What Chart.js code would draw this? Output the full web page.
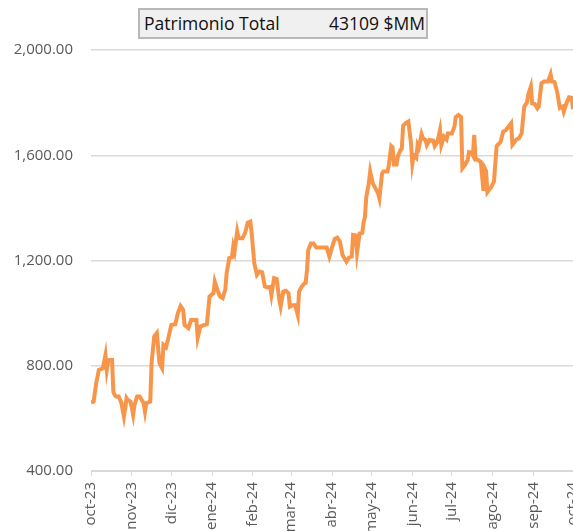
<!DOCTYPE html>
<html>
<head>
<meta charset="utf-8">
<script src="https://cdn.jsdelivr.net/npm/chart.js@4.4.1/dist/chart.umd.min.js"></script>
<style>
  html, body { margin: 0; padding: 0; overflow: hidden; background: #fff; }
  #wrap { position: relative; width: 573px; height: 531px; overflow: hidden; }
  #c { position: absolute; left: 0; top: 0; }
  #caja {
    position: absolute; left: 138px; top: 8px; width: 286px; height: 27px;
    background: #f0f0f0; border: 2px solid #b8b8b8;
    font-family: "Open Sans", sans-serif; font-size: 17.5px; color: #111;
    line-height: 27px;
  }
  #caja .nom { position: absolute; left: 4px; }
  #caja .val { position: absolute; right: 1px; }
</style>
</head>
<body>
<div id="wrap">
  <canvas id="c" width="590" height="560"></canvas>
  <div id="caja"><span class="nom">Patrimonio Total</span><span class="val">43109 $MM</span></div>
</div>
<script>
// dias desde 1-oct-2023
const dias = [0, 2, 3, 4, 6, 8, 9, 11, 12, 13, 14, 16, 17, 18, 19, 21, 23, 25, 26, 27, 28, 30, 31, 32, 33, 35, 37, 40, 41, 42, 45,
  46, 48, 50, 52, 54, 55, 57, 59, 61, 64, 66, 68, 70, 71, 74, 76, 80, 81, 83, 86, 88, 90,
  93, 94, 96, 98, 100, 102, 103, 105, 107, 108, 109, 111, 112, 115, 117, 119, 121, 122,
  124, 126, 128, 130, 132, 134, 136, 137, 139, 141, 143, 144, 146, 148, 150, 151,
  153, 155, 157, 158, 160, 162, 163, 164, 165, 167, 169, 171, 174, 179, 181, 183,
  185, 187, 189, 191, 194, 196, 198, 199, 201, 202, 204, 206, 207, 208, 209, 211, 212,
  214, 216, 218, 219, 221, 222, 225, 226, 228, 229, 230, 232, 233, 235, 236, 237, 239, 241, 243,
  244, 245, 247, 248, 249, 251, 252, 254, 255, 257, 260, 261, 263, 265, 266, 268, 270, 271, 274,
  276, 277, 279, 281, 282, 284, 286, 287, 289, 290, 291, 292, 294, 296, 298, 299, 300, 301, 303, 304,
  306, 308, 309, 311, 313, 315, 317, 319, 320, 323, 325, 327, 329, 331, 332, 334, 335,
  337, 339, 340, 342, 344, 347, 349, 350, 352, 354, 356, 358, 359, 361, 363, 365, 366];

const patrimonio = [660, 664, 700, 735, 784, 788, 790, 841, 784, 815, 822, 822, 700, 689, 683, 683, 660, 607, 640, 677, 670, 664, 640, 613, 650, 683, 683, 658, 626, 658, 664,
  810, 911, 924, 810, 791, 879, 870, 911, 955, 958, 1000, 1027, 1012, 955, 943, 974, 974, 906, 949, 955, 958, 1063,
  1076, 1120, 1088, 1063, 1057, 1090, 1152, 1209, 1212, 1253, 1234, 1310, 1285, 1285, 1304, 1344, 1348, 1304,
  1190, 1145, 1158, 1155, 1101, 1098, 1100, 1069, 1133, 1130, 1050, 1025, 1082, 1085, 1075, 1025,
  1030, 1030, 993, 1082, 1101, 1113, 1115, 1164, 1240, 1265, 1265, 1249, 1249, 1249, 1215, 1250,
  1281, 1287, 1272, 1221, 1196, 1212, 1215, 1297, 1295, 1230, 1303, 1305, 1345, 1365, 1440, 1495, 1538,
  1493, 1474, 1455, 1436, 1530, 1538, 1538, 1557, 1635, 1630, 1565, 1565, 1595, 1620, 1625, 1712, 1722, 1728, 1645,
  1568, 1600, 1590, 1640, 1630, 1680, 1665, 1658, 1639, 1658, 1655, 1635, 1650, 1696, 1639, 1671, 1660, 1683, 1683,
  1709, 1745, 1753, 1745, 1550, 1563, 1582, 1612, 1610, 1600, 1677, 1585, 1582, 1575, 1465, 1550, 1540, 1460, 1474, 1480,
  1500, 1635, 1640, 1650, 1690, 1695, 1709, 1722, 1640, 1660, 1665, 1683, 1785, 1800, 1830, 1861, 1797,
  1795, 1778, 1785, 1873, 1880, 1880, 1908, 1880, 1878, 1840, 1780, 1785, 1766, 1797, 1820, 1818, 1775];

const diasMes = [0, 31, 61, 92, 123, 152, 183, 213, 244, 274, 305, 336, 366];
const etiquetasMes = ['oct-23', 'nov-23', 'dic-23', 'ene-24', 'feb-24', 'mar-24', 'abr-24', 'may-24', 'jun-24', 'jul-24', 'ago-24', 'sep-24', 'oct-24'];

const GRIS = '#d9d9d9';
const TEXTO = '#595959';
const FUENTE = { family: 'Open Sans', size: 15 };

new Chart(document.getElementById('c'), {
  type: 'line',
  data: {
    datasets: [{
      label: 'Patrimonio',
      data: dias.map((d, i) => ({ x: d, y: patrimonio[i] })),
      borderColor: '#f7964a',
      borderWidth: 4,
      pointRadius: 0,
      tension: 0,
      fill: false
    }]
  },
  options: {
    responsive: false,
    animation: false,
    devicePixelRatio: 1,
    layout: { padding: { top: 50, right: 17, left: 0, bottom: 0 } },
    plugins: { legend: { display: false }, tooltip: { enabled: false } },
    scales: {
      x: {
        type: 'linear',
        min: 0,
        max: 366,
        afterBuildTicks: (scale) => { scale.ticks = diasMes.map(v => ({ value: v })); },
        afterFit: (scale) => {
          scale.height = 89;
          // sin margen extra por las etiquetas giradas
          scale.paddingLeft = 0;
          scale.paddingRight = 0;
        },
        grid: { drawOnChartArea: false, drawTicks: true, tickLength: 5, color: GRIS },
        border: { display: true, color: GRIS },
        ticks: {
          autoSkip: false,
          maxRotation: 90,
          minRotation: 90,
          padding: 6,
          color: TEXTO,
          font: FUENTE,
          callback: (v) => etiquetasMes[diasMes.indexOf(v)]
        }
      },
      y: {
        min: 400,
        max: 2000,
        afterFit: (scale) => { scale.width = 91; },
        grid: { color: GRIS, drawTicks: false, lineWidth: 1.5 },
        border: { display: false },
        ticks: {
          stepSize: 400,
          padding: 18,
          color: TEXTO,
          font: FUENTE,
          callback: (v) => v.toLocaleString('en-US', { minimumFractionDigits: 2, maximumFractionDigits: 2 })
        }
      }
    }
  }
});
</script>
</body>
</html>
